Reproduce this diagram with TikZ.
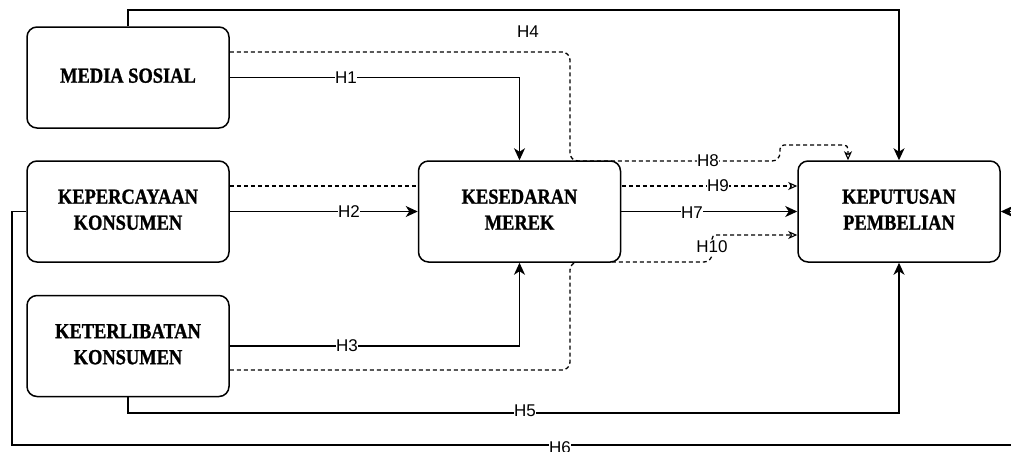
\documentclass[tikz,border=0pt]{standalone}
\usepackage{fontspec}
\setmainfont{Liberation Serif}
\setsansfont{Liberation Sans}
\newfontfamily\boxfont[FakeBold=1.2]{Liberation Serif Bold}
\usetikzlibrary{arrows.meta}
\pgfdeclarelayer{bg}
\pgfsetlayers{bg,main}
\newcommand{\boxtext}[1]{\scalebox{0.97}[1.13]{\boxfont\fontsize{19}{23}\selectfont\begin{tabular}{@{}c@{}}#1\end{tabular}}}
\begin{document}
\begin{tikzpicture}[x=1pt,y=-1pt,
  box/.style={draw=black,line width=1.5pt,fill=white,rounded corners=10pt,
    minimum width=202pt,minimum height=101pt,align=center,inner sep=0pt},
  conn/.style={line width=1.5pt,draw=black},
  dsh/.style={line width=1.3pt,draw=black,dash pattern=on 4pt off 3pt},
  solidtip/.style={-{Stealth[length=12pt,width=11pt,inset=3.5pt]}},
  opentip/.style={-{Stealth[open,length=9pt,width=8pt,inset=2.5pt,line width=1.1pt]}},
  lbl/.style={fill=white,inner sep=0.6pt,font=\sffamily\fontsize{17}{17}\selectfont}
]
\useasboundingbox (0,0) rectangle (1011,451);
\clip (0,0) rectangle (1011,451);

% boxes
\node[box] (media) at (128,77.5) {\boxtext{MEDIA SOSIAL}};
\node[box] (kepercayaan) at (128,211.5) {\boxtext{KEPERCAYAAN\\KONSUMEN}};
\node[box] (keterlibatan) at (128,346) {\boxtext{KETERLIBATAN\\KONSUMEN}};
\node[box] (kesedaran) at (519.5,211.5) {\boxtext{KESEDARAN\\MEREK}};
\node[box] (keputusan) at (899,211.5) {\boxtext{KEPUTUSAN\\PEMBELIAN}};

% waypoints
\coordinate (d1) at (570,52);
\coordinate (d3) at (570,370);
\coordinate (r6) at (1040,445);

\begin{pgfonlayer}{bg}
  % H8 (dashed, via MEDIA SOSIAL)
  \draw[dsh,opentip,rounded corners=8pt] (media.east |- d1) -- (d1) -- (570,161)
     -- (780,161) [rounded corners=4pt] -- (780,145) -- (848,145) -- (keputusan.north -| 848,0);
  % H9 (dashed, via KEPERCAYAAN)
  \draw[dsh,opentip] (kepercayaan.east |- 0,186) -- (keputusan.west |- 0,186);
  % H10 (dashed, via KETERLIBATAN)
  \draw[dsh,opentip,rounded corners=8pt] (keterlibatan.east |- d3) -- (d3) -- (570,262)
     -- (712,262) [rounded corners=4pt] -- (712,235) -- (keputusan.west |- 0,235);
\end{pgfonlayer}

% H4
\draw[conn,solidtip] (media.north) -- (media.north |- 0,10) -| (keputusan.north);
\node[lbl] (h4) at (528,32) {H4};
% H1
\draw[conn,solidtip] (media.east) -| (kesedaran.north);
\node[lbl] (h1) at (346,77.5) {H1};
% H2
\draw[conn,solidtip] (kepercayaan.east) -- (kesedaran.west);
\node[lbl] (h2) at (349,211.5) {H2};
% H3
\draw[conn,solidtip] (keterlibatan.east) -| (kesedaran.south);
\node[lbl] (h3) at (347,346) {H3};
% H5
\draw[conn,solidtip] (keterlibatan.south) -- (keterlibatan.south |- 0,413) -| (keputusan.south);
\node[lbl] (h5) at (525,411) {H5};
% H6
\draw[conn,solidtip] (kepercayaan.west) -- (12,211.5) -- (12,445) -- (r6) |- (keputusan.east);
\node[lbl] (h6) at (560,448) {H6};
% H7
\draw[conn,solidtip] (kesedaran.east) -- (keputusan.west);
\node[lbl] (h7) at (692,213) {H7};
% dashed labels
\node[lbl] (h8) at (708,161) {H8};
\node[lbl] (h9) at (718,186) {H9};
\node[lbl] (h10) at (712,247) {H10};
\end{tikzpicture}
\end{document}
